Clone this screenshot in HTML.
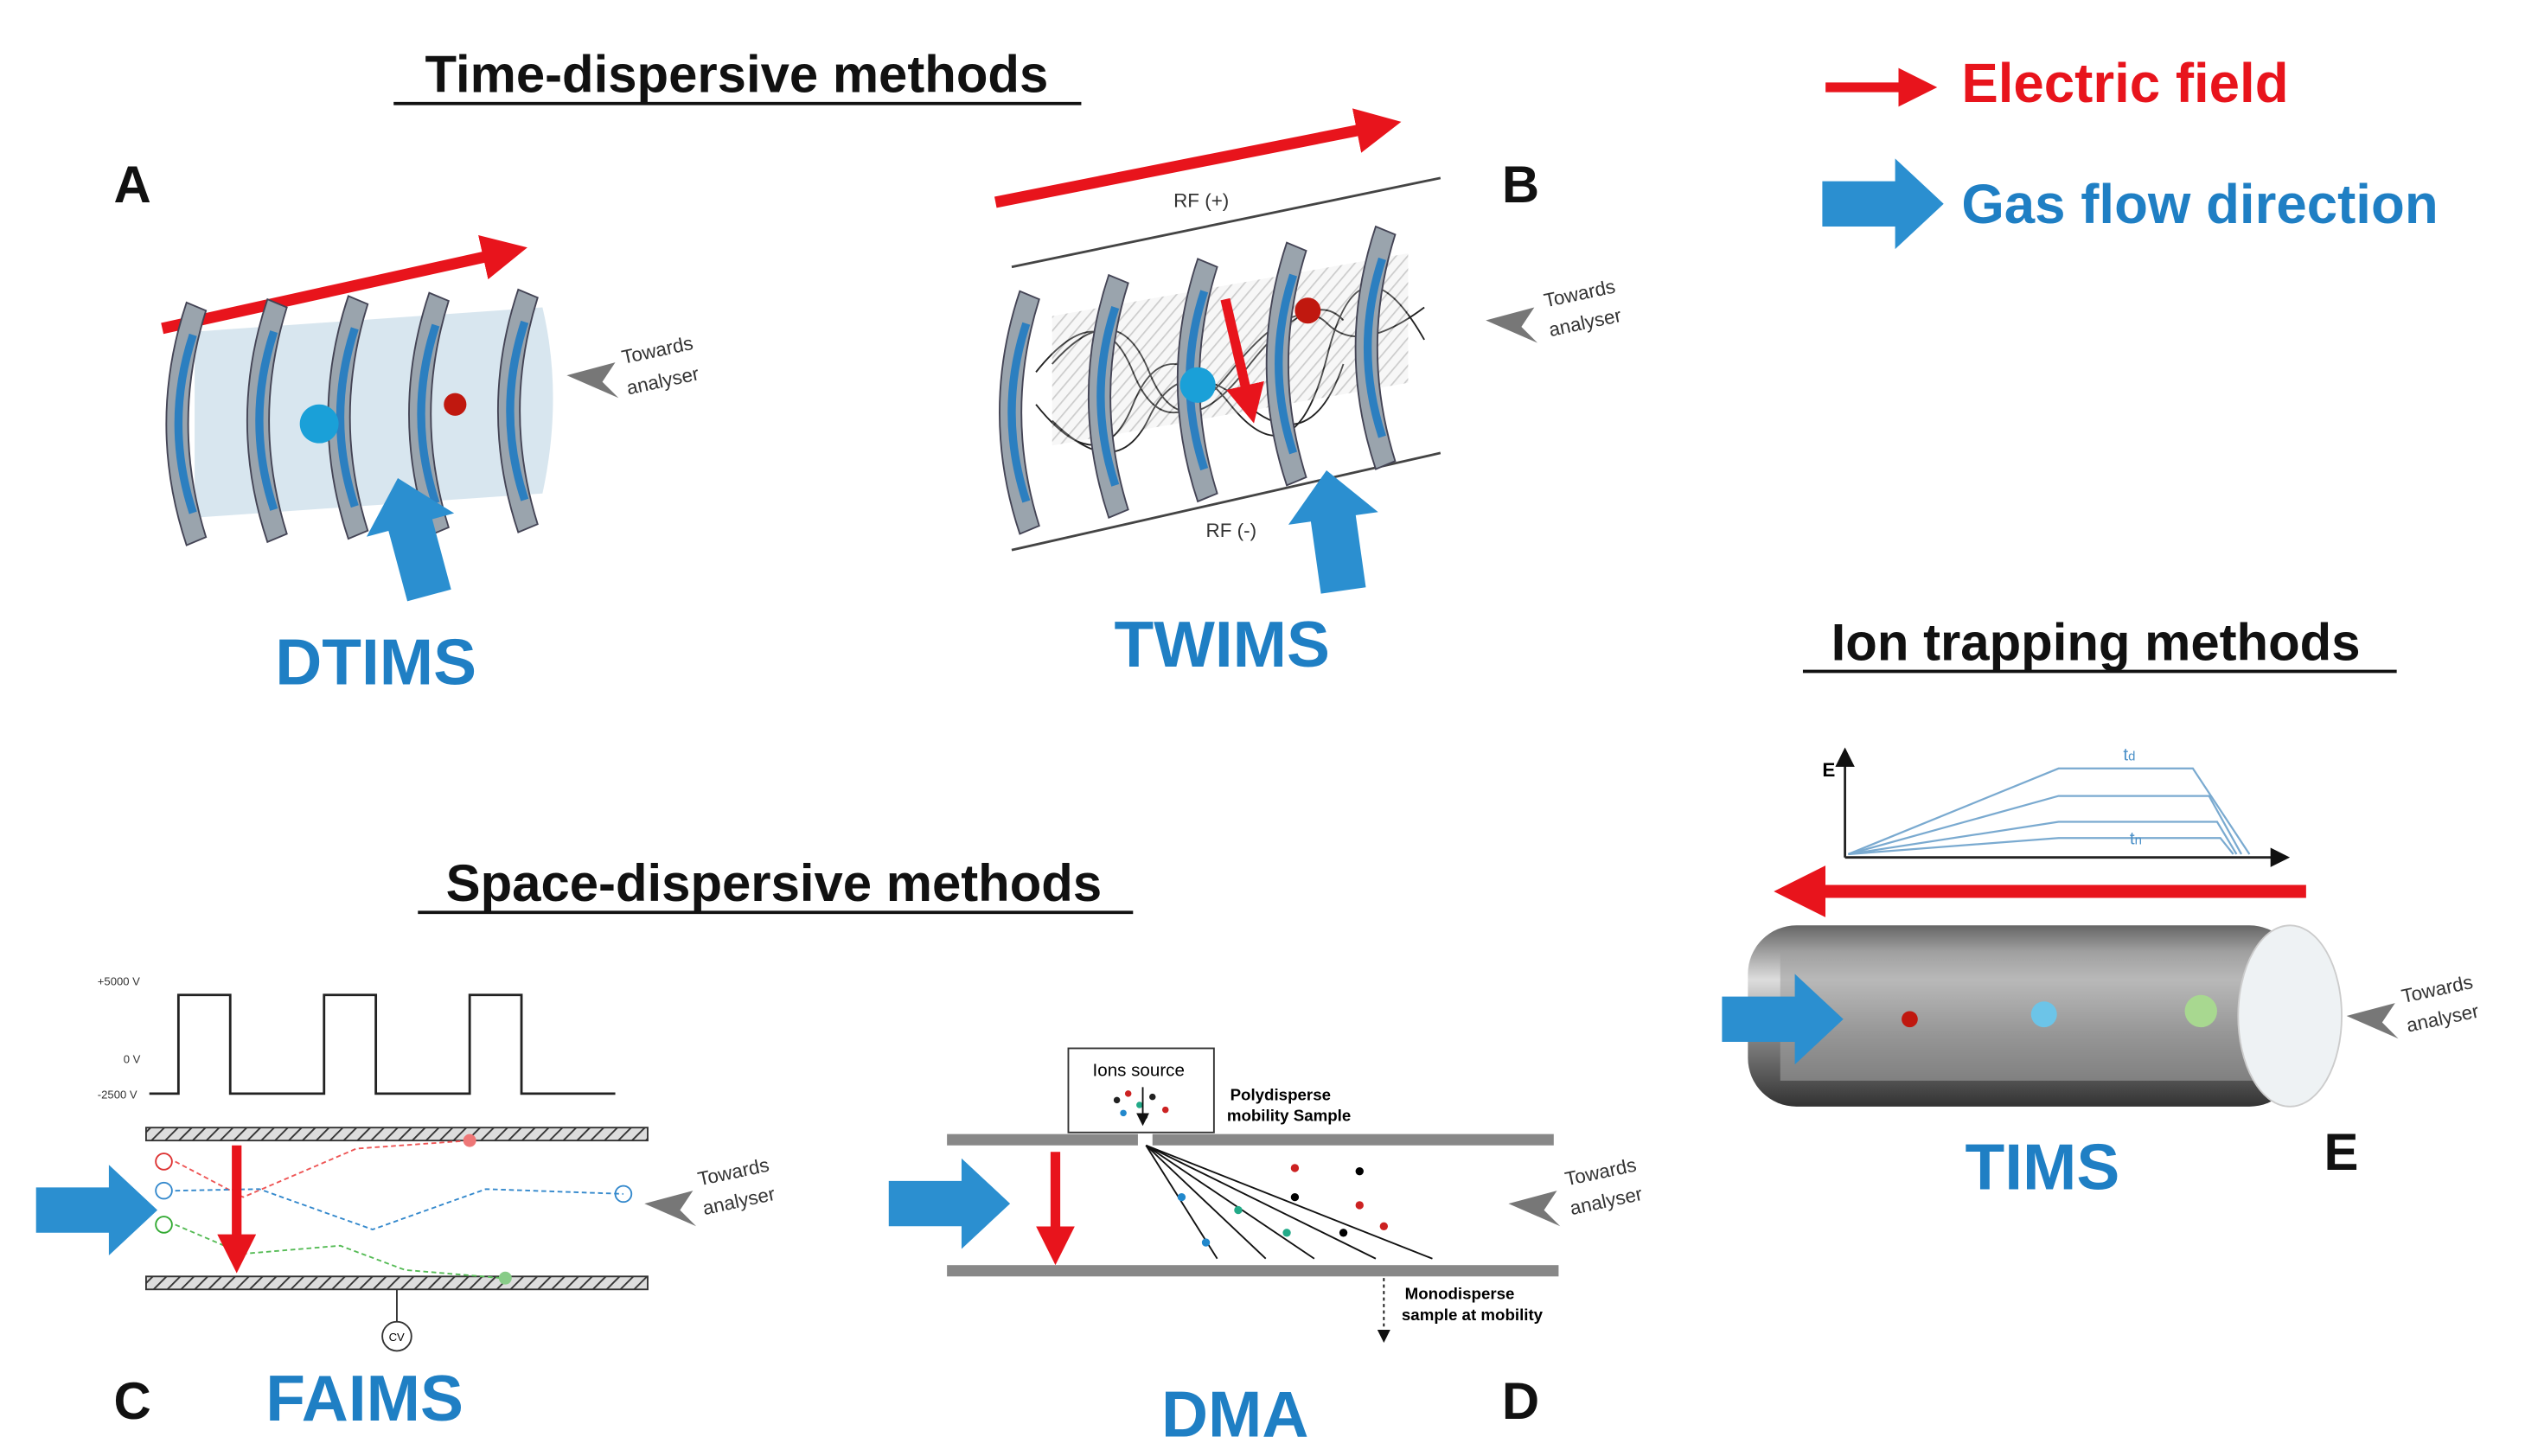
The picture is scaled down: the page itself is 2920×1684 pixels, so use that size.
<!DOCTYPE html>
<html><head><meta charset="utf-8"><style>
html,body{margin:0;padding:0;background:#fff}
svg{display:block}
text{font-family:"Liberation Sans",sans-serif}
.h{font-size:32px;font-weight:bold;fill:#111}
.lab{font-size:32px;font-weight:bold;fill:#111}
.big{font-size:40px;font-weight:bold;fill:#1f7fc4}
.sm{font-size:12px;fill:#333}
</style></head><body>
<svg width="2920" height="1684" viewBox="0 0 1560 900" xmlns="http://www.w3.org/2000/svg">
<defs>
<marker id="rh" markerWidth="4" markerHeight="4" refX="2" refY="2" orient="auto"><path d="M0,0 L4,2 L0,4z" fill="#e8141c"/></marker>
<marker id="kh" markerWidth="8" markerHeight="8" refX="6" refY="4" orient="auto"><path d="M0,0 L8,4 L0,8z" fill="#111"/></marker>
<pattern id="hatch" width="6" height="6" patternUnits="userSpaceOnUse" patternTransform="rotate(45)"><rect width="6" height="6" fill="#ddd"/><line x1="0" y1="0" x2="0" y2="6" stroke="#333" stroke-width="2"/></pattern>
<linearGradient id="cyl" x1="0" y1="0" x2="0" y2="1"><stop offset="0" stop-color="#666"/><stop offset="0.3" stop-color="#ddd"/><stop offset="0.6" stop-color="#888"/><stop offset="1" stop-color="#333"/></linearGradient>
<g id="ring"><path d="M0,-75 Q-25,0 0,75 L12,70 Q-10,0 12,-70z" fill="#9aa4ad" stroke="#445" stroke-width="1"/><path d="M4,-55 Q-14,0 4,55" stroke="#2c7fc0" stroke-width="5" fill="none"/></g>
<g id="ta"><path d="M0,0 L30,-8 L22,4 L32,14 Z" fill="#777"/></g>
<g id="bar"><path d="M0,-14 L45,-14 L45,-28 L75,0 L45,28 L45,14 L0,14z" fill="#2b8fd0"/></g>
</defs>

<!-- Headings -->
<text class="h" x="455" y="57" text-anchor="middle">Time-dispersive methods</text>
<line x1="243" y1="64" x2="668" y2="64" stroke="#111" stroke-width="2"/>
<text class="h" x="1295" y="408" text-anchor="middle">Ion trapping methods</text>
<line x1="1114" y1="415" x2="1481" y2="415" stroke="#111" stroke-width="2"/>
<text class="h" x="478" y="557" text-anchor="middle">Space-dispersive methods</text>
<line x1="258" y1="564" x2="700" y2="564" stroke="#111" stroke-width="2"/>

<!-- Legend -->
<line x1="1128" y1="54" x2="1185" y2="54" stroke="#e8141c" stroke-width="6" marker-end="url(#rh)"/>
<text x="1212" y="63" font-size="34" font-weight="bold" fill="#e8141c">Electric field</text>
<use href="#bar" x="1126" y="126"/>
<text x="1212" y="138" font-size="34" font-weight="bold" fill="#1f7fc4">Gas flow direction</text>

<!-- A DTIMS -->
<text class="lab" x="70" y="125">A</text>
<line x1="100" y1="203" x2="312" y2="156" stroke="#e8141c" stroke-width="7" marker-end="url(#rh)"/>
<path d="M120,205 L335,190 Q348,245 335,305 L120,320z" fill="#c8dbe8" opacity="0.7"/>
<use href="#ring" x="115" y="262"/><use href="#ring" x="165" y="260"/><use href="#ring" x="215" y="258"/><use href="#ring" x="265" y="256"/><use href="#ring" x="320" y="254"/>
<circle cx="197" cy="262" r="12" fill="#1aa0d8"/><circle cx="281" cy="250" r="7" fill="#c0180f"/>
<use href="#ta" x="350" y="232"/>
<text class="sm" x="385" y="225" font-size="14" transform="rotate(-12 385 225)">Towards</text>
<text class="sm" x="388" y="244" font-size="14" transform="rotate(-12 388 244)">analyser</text>
<use href="#bar" transform="translate(265,368) rotate(-105)"/>
<text class="big" x="232" y="423" text-anchor="middle">DTIMS</text>

<!-- B TWIMS -->
<text class="lab" x="928" y="125">B</text>
<line x1="615" y1="125" x2="852" y2="78" stroke="#e8141c" stroke-width="7" marker-end="url(#rh)"/>
<line x1="625" y1="165" x2="890" y2="110" stroke="#444" stroke-width="1.5"/>
<line x1="625" y1="340" x2="890" y2="280" stroke="#444" stroke-width="1.5"/>
<text class="sm" x="725" y="128" font-size="14">RF (+)</text>
<text class="sm" x="745" y="332" font-size="14">RF (-)</text>
<g stroke="#222" stroke-width="1" fill="none">
<path d="M640,230 Q680,180 700,230 T760,230 T820,200 T880,190"/>
<path d="M640,250 Q680,300 700,250 T760,250 T820,220 T880,210"/>
<path d="M650,225 Q690,180 710,230 T770,228 T830,198"/>
<path d="M650,260 Q690,300 710,258 T770,250 T830,225"/>
</g>
<rect x="650" y="190" width="220" height="80" fill="url(#hatch)" opacity="0.25" transform="skewY(-10) translate(0,120)"/>
<use href="#ring" x="630" y="255"/><use href="#ring" x="685" y="245"/><use href="#ring" x="740" y="235"/><use href="#ring" x="795" y="225"/><use href="#ring" x="850" y="215"/>
<circle cx="740" cy="238" r="11" fill="#1aa0d8"/><circle cx="808" cy="192" r="8" fill="#c0180f"/>
<line x1="757" y1="185" x2="772" y2="250" stroke="#e8141c" stroke-width="6" marker-end="url(#rh)"/>
<use href="#ta" x="918" y="198"/>
<text class="sm" x="955" y="190" font-size="14" transform="rotate(-12 955 190)">Towards</text>
<text class="sm" x="958" y="208" font-size="14" transform="rotate(-12 958 208)">analyser</text>
<use href="#bar" transform="translate(830,365) rotate(-98)"/>
<text class="big" x="755" y="412" text-anchor="middle">TWIMS</text>

<!-- E TIMS -->
<line x1="1140" y1="530" x2="1140" y2="465" stroke="#222" stroke-width="1.5" marker-end="url(#kh)"/>
<line x1="1140" y1="530" x2="1412" y2="530" stroke="#222" stroke-width="1.5" marker-end="url(#kh)"/>
<text x="1126" y="480" font-size="12" font-weight="bold">E</text>
<g stroke="#7aaad0" stroke-width="1.2" fill="none">
<path d="M1142,528 L1272,475 L1355,475 L1390,528"/>
<path d="M1142,528 L1272,492 L1365,492 L1385,528"/>
<path d="M1142,528 L1272,508 L1370,508 L1382,528"/>
<path d="M1142,528 L1272,518 L1372,518 L1380,528"/>
</g>
<text x="1312" y="470" font-size="11" fill="#4a90c8">t<tspan font-size="8">d</tspan></text>
<text x="1316" y="522" font-size="11" fill="#4a90c8">t<tspan font-size="8">n</tspan></text>
<line x1="1425" y1="551" x2="1112" y2="551" stroke="#e8141c" stroke-width="8" marker-end="url(#rh)"/>
<rect x="1080" y="572" width="340" height="112" rx="30" fill="url(#cyl)"/>
<rect x="1100" y="588" width="320" height="80" fill="#a0a0a0" opacity="0.6"/>
<ellipse cx="1415" cy="628" rx="32" ry="56" fill="#eef2f4" stroke="#ccc"/>
<circle cx="1180" cy="630" r="5" fill="#c0180f"/><circle cx="1263" cy="627" r="8" fill="#6cc4e8"/><circle cx="1360" cy="625" r="10" fill="#a8d890"/>
<use href="#bar" x="1064" y="630"/>
<use href="#ta" x="1450" y="628"/>
<text class="sm" x="1485" y="620" font-size="14" transform="rotate(-12 1485 620)">Towards</text>
<text class="sm" x="1488" y="638" font-size="14" transform="rotate(-12 1488 638)">analyser</text>
<text class="big" x="1262" y="735" text-anchor="middle">TIMS</text>
<text class="lab" x="1436" y="723">E</text>

<!-- C FAIMS -->
<text x="60" y="609" font-size="7" fill="#333">+5000 V</text>
<text x="76" y="657" font-size="7" fill="#333">0 V</text>
<text x="60" y="679" font-size="7" fill="#333">-2500 V</text>
<path d="M92,676 L110,676 L110,615 L142,615 L142,676 L200,676 L200,615 L232,615 L232,676 L290,676 L290,615 L322,615 L322,676 L380,676" stroke="#222" stroke-width="1.5" fill="none"/>
<rect x="90" y="697" width="310" height="8" fill="url(#hatch)" stroke="#333"/>
<rect x="90" y="789" width="310" height="8" fill="url(#hatch)" stroke="#333"/>
<use href="#bar" x="22" y="748"/>
<circle cx="101" cy="718" r="5" fill="none" stroke="#d33"/><circle cx="101" cy="736" r="5" fill="none" stroke="#38c"/><circle cx="101" cy="757" r="5" fill="none" stroke="#3a3"/>
<path d="M108,718 L150,740 L220,710 L290,705" stroke="#e55" stroke-dasharray="3,2" fill="none"/>
<path d="M108,736 L160,735 L230,760 L300,735 L385,738" stroke="#38c" stroke-dasharray="3,2" fill="none"/>
<path d="M108,757 L150,775 L210,770 L250,785 L310,790" stroke="#5b5" stroke-dasharray="3,2" fill="none"/>
<circle cx="290" cy="705" r="4" fill="#e77"/><circle cx="385" cy="738" r="5" fill="none" stroke="#38c"/><circle cx="312" cy="790" r="4" fill="#8c8"/>
<line x1="146" y1="708" x2="146" y2="775" stroke="#e8141c" stroke-width="6" marker-end="url(#rh)"/>
<line x1="245" y1="797" x2="245" y2="818" stroke="#333"/><circle cx="245" cy="826" r="9" fill="#fff" stroke="#333"/>
<text x="240" y="829" font-size="7">CV</text>
<use href="#ta" x="398" y="744"/>
<text class="sm" x="432" y="733" font-size="14" transform="rotate(-12 432 733)">Towards</text>
<text class="sm" x="435" y="751" font-size="14" transform="rotate(-12 435 751)">analyser</text>
<text class="lab" x="70" y="877">C</text>
<text class="big" x="225" y="878" text-anchor="middle">FAIMS</text>

<!-- D DMA -->
<rect x="660" y="648" width="90" height="52" fill="#fff" stroke="#333"/>
<text x="675" y="665" font-size="11">Ions source</text>
<rect x="585" y="701" width="118" height="7" fill="#888"/>
<rect x="712" y="701" width="248" height="7" fill="#888"/>
<rect x="585" y="782" width="378" height="7" fill="#888"/>
<g fill="#222"><circle cx="690" cy="680" r="2"/><circle cx="697" cy="676" r="2" fill="#c22"/><circle cx="704" cy="683" r="2" fill="#2a8"/><circle cx="712" cy="678" r="2"/><circle cx="694" cy="688" r="2" fill="#28c"/><circle cx="720" cy="686" r="2" fill="#c22"/><circle cx="707" cy="690" r="2"/></g>
<line x1="706" y1="672" x2="706" y2="694" stroke="#111" marker-end="url(#kh)"/>
<text x="760" y="680" font-size="10" font-weight="bold">Polydisperse</text>
<text x="758" y="693" font-size="10" font-weight="bold">mobility Sample</text>
<g stroke="#111" stroke-width="1" fill="none">
<line x1="708" y1="708" x2="752" y2="778"/><line x1="708" y1="708" x2="782" y2="778"/><line x1="708" y1="708" x2="812" y2="778"/><line x1="708" y1="708" x2="850" y2="778"/><line x1="708" y1="708" x2="885" y2="778"/>
</g>
<g><circle cx="730" cy="740" r="2.5" fill="#28c"/><circle cx="745" cy="768" r="2.5" fill="#28c"/><circle cx="765" cy="748" r="2.5" fill="#2a8"/><circle cx="795" cy="762" r="2.5" fill="#2a8"/><circle cx="800" cy="740" r="2.5"/><circle cx="830" cy="762" r="2.5"/><circle cx="800" cy="722" r="2.5" fill="#c22"/><circle cx="840" cy="745" r="2.5" fill="#c22"/><circle cx="855" cy="758" r="2.5" fill="#c22"/><circle cx="840" cy="724" r="2.5"/></g>
<line x1="855" y1="790" x2="855" y2="828" stroke="#111" stroke-dasharray="2,2" marker-end="url(#kh)"/>
<text x="868" y="803" font-size="10" font-weight="bold">Monodisperse</text>
<text x="866" y="816" font-size="10" font-weight="bold">sample at mobility</text>
<line x1="652" y1="712" x2="652" y2="770" stroke="#e8141c" stroke-width="6" marker-end="url(#rh)"/>
<use href="#bar" x="549" y="744"/>
<use href="#ta" x="932" y="744"/>
<text class="sm" x="968" y="733" font-size="14" transform="rotate(-12 968 733)">Towards</text>
<text class="sm" x="971" y="751" font-size="14" transform="rotate(-12 971 751)">analyser</text>
<text class="big" x="763" y="888" text-anchor="middle">DMA</text>
<text class="lab" x="928" y="877">D</text>
</svg>
</body></html>
